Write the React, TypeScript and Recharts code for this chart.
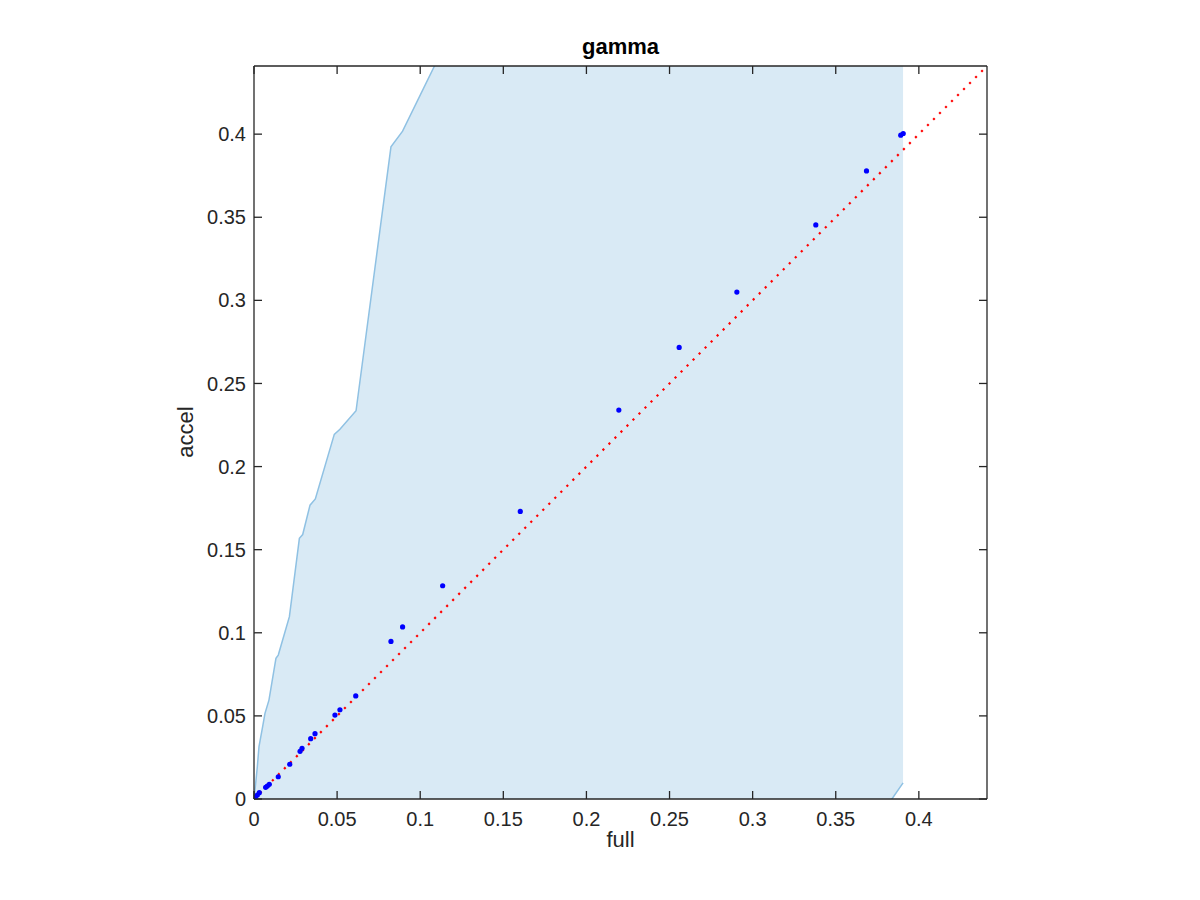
import React from 'react';
import {
  ComposedChart,
  Area,
  Line,
  Scatter,
  XAxis,
  YAxis,
} from 'recharts';

// tick positions shared by both axes
const ticks = [0, 0.05, 0.1, 0.15, 0.2, 0.25, 0.3, 0.35, 0.4];
const axisMax = 0.441;

// shaded band: x, lower edge, upper edge
const bandX = [
  0, 0.0008, 0.002, 0.003, 0.0052, 0.0066, 0.009, 0.0132, 0.0146, 0.0213,
  0.0273, 0.0293, 0.0337, 0.0369, 0.0483, 0.0517, 0.0614, 0.0824, 0.0894,
  0.112, 0.377, 0.3838, 0.3905,
];
const bandLow = [
  -0.3, -0.3, -0.3, -0.3, -0.3, -0.3, -0.3, -0.3, -0.3, -0.3,
  -0.3, -0.3, -0.3, -0.3, -0.3, -0.3, -0.3, -0.3, -0.3,
  -0.3, -0.01, 0, 0.0097,
];
const bandHigh = [
  0, 0.0074, 0.0194, 0.0315, 0.0435, 0.0515, 0.0595, 0.0846, 0.0866, 0.1097,
  0.1568, 0.1591, 0.1768, 0.1805, 0.2194, 0.2224, 0.2336, 0.3924, 0.4018,
  0.448, 0.6, 0.6, 0.6,
];

// blue points (full vs accel)
const fullVals = [
  0.3906, 0.3891, 0.3685, 0.338, 0.2905, 0.2558, 0.2195, 0.1602, 0.1135,
  0.0894, 0.0824, 0.0612, 0.0517, 0.0487, 0.0367, 0.0341, 0.0289, 0.0277,
  0.0215, 0.0146, 0.0092, 0.008, 0.007, 0.0032, 0.002, 0.0008, 0,
];
const accelVals = [
  0.4004, 0.3994, 0.3779, 0.3454, 0.305, 0.2717, 0.234, 0.173, 0.1283,
  0.1035, 0.0948, 0.062, 0.0537, 0.0505, 0.0393, 0.0363, 0.0305, 0.0287,
  0.0209, 0.0134, 0.0088, 0.0078, 0.007, 0.0038, 0.0024, 0.001, 0,
];

// y = x reference line
const diagX = [0, axisMax];

const bandData = bandX.map((x, i) => ({ x, band: [bandLow[i], bandHigh[i]] }));
const pointData = fullVals.map((x, i) => ({ x, y: accelVals[i] }));
const diagData = diagX.map((x) => ({ x, y: x }));

const font = '"Liberation Sans", Arial, Helvetica, sans-serif';
const ink = '#262626';
const TICK_LEN = 8;

const Dot = (props: any) => {
  const { cx, cy } = props;
  if (cx == null || cy == null) return null;
  return <circle cx={cx} cy={cy} r={2.6} fill="#0000ff" />;
};

// MATLAB style ticks point into the plot box
const BottomTick = (props: any) => {
  const { x, y, payload } = props;
  const base = y - 21;
  return (
    <g>
      <line x1={x} x2={x} y1={base} y2={base - TICK_LEN} stroke={ink} strokeWidth={1.3} />
      <text x={x} y={base + 13} dy="0.71em" textAnchor="middle" fill={ink} fontSize={20} fontFamily={font}>
        {String(payload.value)}
      </text>
    </g>
  );
};

const LeftTick = (props: any) => {
  const { x, y, payload } = props;
  const base = x + 8;
  return (
    <g>
      <line x1={base} x2={base + TICK_LEN} y1={y} y2={y} stroke={ink} strokeWidth={1.3} />
      <text x={x} y={y} dy="0.355em" textAnchor="end" fill={ink} fontSize={20} fontFamily={font}>
        {String(payload.value)}
      </text>
    </g>
  );
};

const TopTick = (props: any) => {
  const { x, y } = props;
  return <line x1={x} x2={x} y1={y} y2={y + TICK_LEN} stroke={ink} strokeWidth={1.3} />;
};

const RightTick = (props: any) => {
  const { x, y } = props;
  return <line x1={x} x2={x - TICK_LEN} y1={y} y2={y} stroke={ink} strokeWidth={1.3} />;
};

export default function App() {
  return (
    <div
      style={{
        position: 'absolute',
        left: 0,
        top: 0,
        width: 1200,
        height: 900,
        background: '#fff',
        fontFamily: font,
      }}
    >
      <ComposedChart
        width={1200}
        height={900}
        data={bandData}
        margin={{ top: 56, right: 203, bottom: 61, left: 194 }}
      >
        <Area
          xAxisId="bottom"
          yAxisId="left"
          type="linear"
          dataKey="band"
          fill="#d9eaf5"
          fillOpacity={1}
          stroke="#8fc1e3"
          strokeWidth={1.5}
          dot={false}
          activeDot={false}
          isAnimationActive={false}
        />
        <Scatter
          xAxisId="bottom"
          yAxisId="left"
          data={pointData}
          dataKey="y"
          shape={<Dot />}
          isAnimationActive={false}
        />
        <Line
          xAxisId="bottom"
          yAxisId="left"
          data={diagData}
          type="linear"
          dataKey="y"
          stroke="#ff0000"
          strokeWidth={2.2}
          strokeDasharray="2.2 6.3"
          dot={false}
          activeDot={false}
          isAnimationActive={false}
        />
        <XAxis
          xAxisId="bottom"
          type="number"
          dataKey="x"
          domain={[0, axisMax]}
          allowDataOverflow
          ticks={ticks}
          height={40}
          tickLine={false}
          tickSize={0}
          tickMargin={21}
          axisLine={{ stroke: ink, strokeWidth: 1.3 }}
          tick={<BottomTick />}
        />
        <XAxis
          xAxisId="top"
          orientation="top"
          type="number"
          dataKey="x"
          domain={[0, axisMax]}
          allowDataOverflow
          ticks={ticks}
          height={10}
          tickLine={false}
          tickSize={0}
          tickMargin={0}
          axisLine={{ stroke: ink, strokeWidth: 1.3 }}
          tick={<TopTick />}
        />
        <YAxis
          yAxisId="left"
          type="number"
          domain={[0, axisMax]}
          allowDataOverflow
          ticks={ticks}
          width={60}
          tickLine={false}
          tickSize={0}
          tickMargin={8}
          axisLine={{ stroke: ink, strokeWidth: 1.3 }}
          tick={<LeftTick />}
        />
        <YAxis
          yAxisId="right"
          orientation="right"
          type="number"
          domain={[0, axisMax]}
          allowDataOverflow
          ticks={ticks}
          width={10}
          tickLine={false}
          tickSize={0}
          tickMargin={0}
          axisLine={{ stroke: ink, strokeWidth: 1.3 }}
          tick={<RightTick />}
        />
      </ComposedChart>
      <div
        style={{
          position: 'absolute',
          left: 254,
          width: 733,
          top: 34,
          textAlign: 'center',
          fontSize: 22,
          fontWeight: 'bold',
          color: '#000',
        }}
      >
        gamma
      </div>
      <div
        style={{
          position: 'absolute',
          left: 254,
          width: 733,
          top: 827,
          textAlign: 'center',
          fontSize: 22,
          color: ink,
        }}
      >
        full
      </div>
      <div
        style={{
          position: 'absolute',
          left: 186,
          top: 432,
          transform: 'translate(-50%, -50%) rotate(-90deg)',
          fontSize: 22,
          color: ink,
          whiteSpace: 'nowrap',
        }}
      >
        accel
      </div>
    </div>
  );
}
